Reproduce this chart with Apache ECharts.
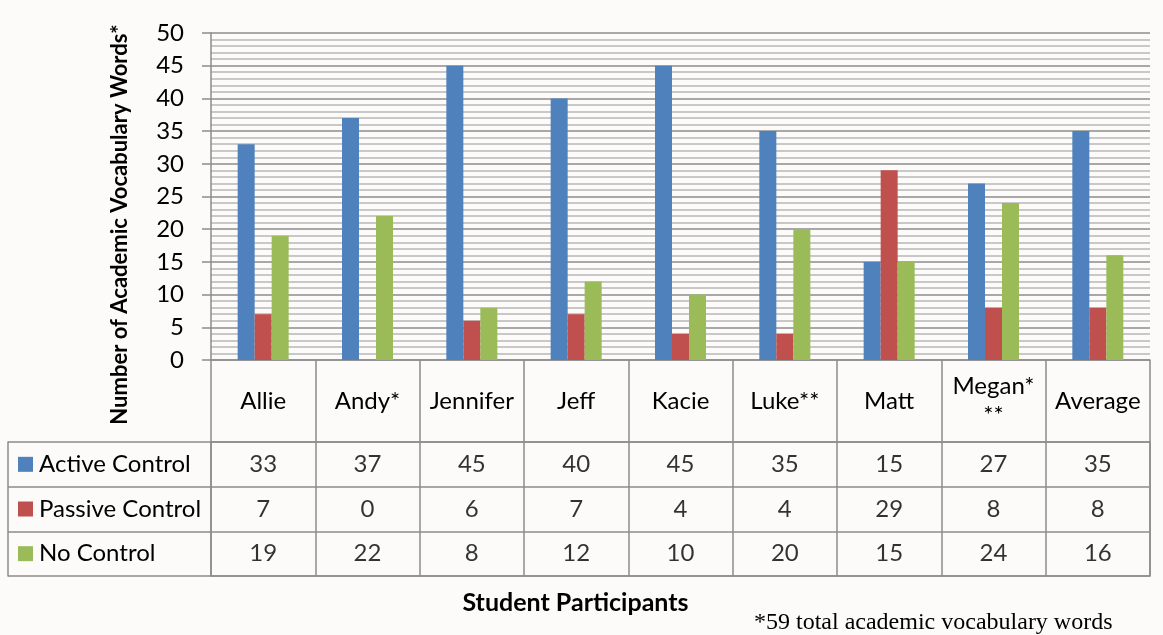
<!DOCTYPE html>
<html>
<head>
<meta charset="utf-8">
<script src="https://cdn.jsdelivr.net/npm/echarts@6/dist/echarts.min.js"></script>
<style>
  html, body { margin: 0; padding: 0; background: #fcfbf9; }
  #chart { width: 1163px; height: 635px; }
</style>
</head>
<body>
<div id="chart"></div>
<script>
// categories and values
const categories = ["Allie", "Andy*", "Jennifer", "Jeff", "Kacie", "Luke**", "Matt", "Megan* **", "Average"];
const seriesNames = ["Active Control", "Passive Control", "No Control"];
const activeControl = [33, 37, 45, 40, 45, 35, 15, 27, 35];
const passiveControl = [7, 0, 6, 7, 4, 4, 29, 8, 8];
const noControl = [19, 22, 8, 12, 10, 20, 15, 24, 16];
const yMin = 0;
const yMax = 50;
const yStep = 5;

const colors = ["#4f81bd", "#c0504d", "#9bbb59"];
const rows = [activeControl, passiveControl, noControl];
const font = "Lato";
const lineGray = "#8c8c8c";

// cells of the data table: [category index, row index, value]
const cells = [];
rows.forEach((vals, r) => {
  vals.forEach((v, i) => cells.push([i, r, v]));
});

const chart = echarts.init(document.getElementById("chart"));

const rich = {};
colors.forEach((c, i) => {
  rich["s" + i] = { backgroundColor: c, width: 15, height: 15 };
});
rich.t = { fontFamily: font, fontSize: 24, color: "#000", padding: [0, 0, 0, 6] };

chart.setOption({
  backgroundColor: "#fcfbf9",
  animation: false,
  title: {
    text: "*59 total academic vocabulary words",
    left: 749,
    top: 606,
    textStyle: {
      fontFamily: "Liberation Serif",
      fontWeight: "normal",
      fontSize: 24,
      color: "#000",
    },
  },
  grid: [
    { left: 211, right: 13, top: 33, height: 327 },
    {
      left: 211, right: 13, top: 442, height: 134,
      show: true, borderColor: lineGray, borderWidth: 1.5,
    },
  ],
  xAxis: [
    {
      type: "category",
      gridIndex: 0,
      data: categories,
      axisLine: { lineStyle: { color: lineGray, width: 1.5 } },
      axisTick: { show: true, interval: 0, length: 82, lineStyle: { color: lineGray, width: 1.5 } },
      axisLabel: {
        interval: 0,
        margin: 41,
        verticalAlign: "middle",
        fontFamily: font,
        fontSize: 24,
        color: "#000",
        lineHeight: 29,
        formatter: (v) => v.replace(" **", "\n**"),
      },
    },
    {
      type: "category",
      gridIndex: 1,
      data: categories,
      axisLine: { show: false },
      axisTick: { show: false },
      axisLabel: { show: false },
      splitLine: { show: true, interval: 0, lineStyle: { color: lineGray, width: 1.5 } },
      name: "Student Participants",
      nameLocation: "middle",
      nameGap: 14,
      nameTextStyle: {
        fontFamily: font,
        fontWeight: "bold",
        fontSize: 25,
        color: "#000",
        padding: [0, 210, 0, 0],
      },
    },
  ],
  yAxis: [
    {
      type: "value",
      gridIndex: 0,
      min: yMin,
      max: yMax,
      interval: yStep,
      axisLine: { show: true, lineStyle: { color: lineGray, width: 1.5 } },
      axisTick: { show: true, length: 9, lineStyle: { color: lineGray, width: 1.5 } },
      axisLabel: { margin: 27, fontFamily: font, fontSize: 24, color: "#000" },
      splitLine: { lineStyle: { color: lineGray, width: 1.5 } },
      minorSplitLine: { show: true, lineStyle: { color: "#b8b8b8", width: 1.5 } },
      minorTick: { splitNumber: 5 },
      name: "Number of Academic Vocabulary Words*",
      nameLocation: "middle",
      nameGap: 80,
      nameTextStyle: {
        fontFamily: font,
        fontWeight: "bold",
        fontSize: 22,
        color: "#000",
        padding: [0, 56, 0, 0],
      },
    },
    {
      type: "category",
      gridIndex: 1,
      inverse: true,
      data: seriesNames,
      axisLine: { show: false },
      axisTick: { show: true, interval: 0, length: 203, lineStyle: { color: lineGray, width: 1.5 } },
      splitLine: { show: true, interval: 0, lineStyle: { color: lineGray, width: 1.5 } },
      axisLabel: {
        interval: 0,
        align: "left",
        margin: 193,
        formatter: (v, i) => "{s" + i + "|}{t|" + v + "}",
        rich: rich,
      },
    },
    {
      type: "value",
      gridIndex: 1,
      position: "left",
      offset: 203,
      min: 0,
      max: 1,
      axisLine: { show: true, lineStyle: { color: lineGray, width: 1.5 } },
      axisTick: { show: false },
      axisLabel: { show: false },
      splitLine: { show: false },
    },
  ],
  series: [
    ...rows.map((vals, r) => ({
      name: seriesNames[r],
      type: "bar",
      xAxisIndex: 0,
      yAxisIndex: 0,
      data: vals,
      barWidth: 17,
      barGap: "0%",
      itemStyle: { color: colors[r] },
    })),
    {
      type: "scatter",
      xAxisIndex: 1,
      yAxisIndex: 1,
      data: cells,
      symbolSize: 1,
      silent: true,
      itemStyle: { color: "transparent" },
      label: {
        show: true,
        position: "inside",
        formatter: (p) => String(p.value[2]),
        fontFamily: font,
        fontSize: 24,
        color: "#000",
      },
    },
  ],
});
</script>
</body>
</html>
